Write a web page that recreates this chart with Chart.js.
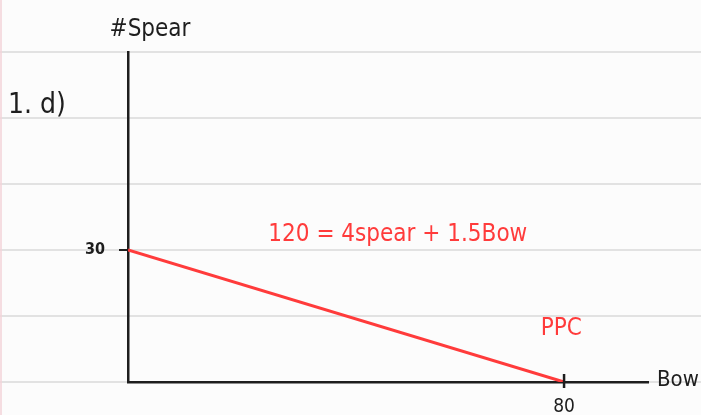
<!DOCTYPE html>
<html>
<head>
<meta charset="utf-8">
<script src="https://cdn.jsdelivr.net/npm/chart.js@4"></script>
<style>
  html, body { margin: 0; padding: 0; background: #fcfcfc; }
  #wrap { width: 701px; height: 415px; position: relative; }
</style>
</head>
<body>
<div id="wrap"><canvas id="myChart"></canvas></div>
<script>
// PPC: 120 = 4 spear + 1.5 bow
const bowValues = [0, 80];
const spearValues = [30, 0];
const yTickLabels = [30];
const xTickLabels = [80];
const equationText = '120 = 4spear + 1.5Bow';

const hand = "'Liberation Sans Narrow', 'DejaVu Sans Condensed', sans-serif";
const red = '#ff3b3b';
const ink = '#1e1e1e';

// notebook paper: ruled lines on every y tick, across the whole page
const paper = {
  id: 'paper',
  beforeDraw(chart) {
    const c = chart.ctx, y = chart.scales.y;
    c.save();
    c.fillStyle = '#fcfcfc';
    c.fillRect(0, 0, chart.width, chart.height);
    c.strokeStyle = '#dadada';
    c.lineWidth = 1.5;
    y.ticks.forEach(t => {
      const py = y.getPixelForValue(t.value);
      c.beginPath(); c.moveTo(0, py); c.lineTo(chart.width, py); c.stroke();
    });
    c.strokeStyle = '#f3d3d8';
    c.lineWidth = 1.5;
    c.beginPath(); c.moveTo(1, 0); c.lineTo(1, chart.height); c.stroke();
    c.restore();
  }
};

const notes = {
  id: 'notes',
  afterDraw(chart) {
    const c = chart.ctx, x = chart.scales.x, y = chart.scales.y;
    c.save();
    c.textBaseline = 'middle';
    c.fillStyle = ink;
    c.font = '24px ' + hand;
    c.textAlign = 'center';
    c.fillText('#Spear', x.getPixelForValue(0) + 22, 30);
    c.font = '28px ' + hand;
    c.textAlign = 'left';
    c.fillText('1. d)', 8, 106);
    c.font = '22px ' + hand;
    c.fillText('Bow', x.right + 9, y.getPixelForValue(0) - 2);
    // tick on x axis crosses the axis line
    c.strokeStyle = ink;
    c.lineWidth = 2.5;
    xTickLabels.forEach(v => {
      const px = x.getPixelForValue(v);
      c.beginPath(); c.moveTo(px, y.bottom - 8); c.lineTo(px, y.bottom + 6); c.stroke();
    });
    c.fillStyle = red;
    c.font = '24px ' + hand;
    c.textAlign = 'center';
    c.fillText(equationText, x.getPixelForValue(49.5), y.getPixelForValue(33.5));
    c.fillText('PPC', x.getPixelForValue(79.5), y.getPixelForValue(12.2));
    c.restore();
  }
};

new Chart(document.getElementById('myChart'), {
  type: 'scatter',
  data: {
    datasets: [{
      label: 'PPC',
      data: bowValues.map((b, i) => ({ x: b, y: spearValues[i] })),
      showLine: true,
      borderColor: red,
      borderWidth: 3,
      pointRadius: 0
    }]
  },
  options: {
    responsive: true,
    maintainAspectRatio: false,
    animation: false,
    layout: { padding: { top: 52, right: 53, left: 0, bottom: 0 } },
    plugins: { legend: { display: false }, tooltip: { enabled: false } },
    scales: {
      x: {
        type: 'linear',
        min: 0,
        max: 95.4,
        afterBuildTicks: s => { s.ticks = xTickLabels.map(v => ({ value: v })); },
        afterFit: s => { s.height = 33; },
        grid: { display: false },
        border: { color: ink, width: 2.5 },
        ticks: { color: ink, font: { family: hand, size: 19 }, padding: 6 }
      },
      y: {
        type: 'linear',
        min: 0,
        max: 75,
        ticks: {
          stepSize: 15,
          color: ink,
          padding: 14,
          font: { family: hand, size: 16, weight: 'bold' },
          callback: v => yTickLabels.includes(v) ? String(v) : ''
        },
        afterFit: s => { s.width = 128; },
        grid: {
          drawOnChartArea: false,
          tickLength: 9,
          lineWidth: 2,
          color: ctx => yTickLabels.includes(ctx.tick && ctx.tick.value) ? ink : 'rgba(0,0,0,0)'
        },
        border: { color: ink, width: 2.5 }
      }
    }
  },
  plugins: [paper, notes]
});
</script>
</body>
</html>
